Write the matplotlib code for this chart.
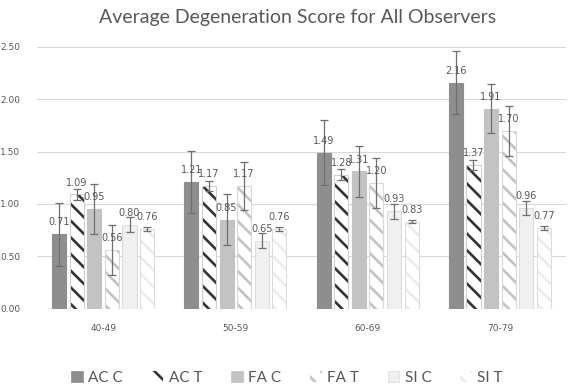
import matplotlib
matplotlib.use("Agg")
import matplotlib.pyplot as plt
import numpy as np
from matplotlib.patches import Patch

categories = ['40-49', '50-59', '60-69', '70-79']
series = ['AC C', 'AC T', 'FA C', 'FA T', 'SI C', 'SI T']
ac_c = [0.71, 1.21, 1.49, 2.16]
ac_t = [1.09, 1.17, 1.28, 1.37]
fa_c = [0.95, 0.85, 1.31, 1.91]
fa_t = [0.56, 1.17, 1.20, 1.70]
si_c = [0.80, 0.65, 0.93, 0.96]
si_t = [0.76, 0.76, 0.83, 0.77]
err_ac_c = [0.30, 0.30, 0.31, 0.30]
err_ac_t = [0.05, 0.05, 0.05, 0.05]
err_fa_c = [0.24, 0.24, 0.24, 0.235]
err_fa_t = [0.235, 0.23, 0.235, 0.24]
err_si_c = [0.07, 0.07, 0.07, 0.065]
err_si_t = [0.015, 0.015, 0.015, 0.015]
yticks = [0.0, 0.5, 1.0, 1.5, 2.0, 2.5]
title = 'Average Degeneration Score for All Observers'

values = [ac_c, ac_t, fa_c, fa_t, si_c, si_t]
errors = [err_ac_c, err_ac_t, err_fa_c, err_fa_t, err_si_c, err_si_t]
# (face, hatch, hatchcolor, border)
styles = [
    ('#8e8e90', None, None, '#8e8e90'),
    ('white', '\\\\', '#333333', '#d0d0d0'),
    ('#c3c3c3', None, None, '#c3c3c3'),
    ('white', '\\\\', '#c3c3c3', '#d8d8d8'),
    ('#f0f0f0', None, None, '#dcdcdc'),
    ('white', '\\\\', '#ececec', '#dcdcdc'),
]

plt.rcParams['hatch.linewidth'] = 1.9
txtc = '#595959'

fig = plt.figure(figsize=(5.77, 3.89), dpi=100)
ax = fig.add_axes([37/577, 1-308.5/389, (566-37)/577, (308.5-47)/389])

x = np.arange(len(categories))
slot = 0.133
bw = 0.106
for i, (vals, errs, st) in enumerate(zip(values, errors, styles)):
    pos = x + (i - 2.5) * slot
    face, hatch, hc, border = st
    if hatch:
        ax.bar(pos, vals, bw, color='white', edgecolor=hc, hatch=hatch, linewidth=0, zorder=2)
        ax.bar(pos, vals, bw, fill=False, edgecolor=border, linewidth=0.8, zorder=2.1)
    else:
        ax.bar(pos, vals, bw, color=face, edgecolor=border, linewidth=0.8, zorder=2)
    ax.errorbar(pos, vals, yerr=errs, fmt='none', ecolor='#6f6f6f', elinewidth=0.9,
                capsize=2.6, capthick=0.9, zorder=3)
    for px, v in zip(pos, vals):
        ax.annotate(f'{v:.2f}', (px, v), xytext=(0, 8.5), textcoords='offset points',
                    ha='center', va='center', fontsize=7, color=txtc, zorder=4)

ax.set_xlim(-0.5, 3.5)
ax.set_ylim(0, 2.5)
ax.set_yticks(yticks)
ax.set_yticklabels([f'{t:.2f}' for t in yticks])
ax.set_xticks(x)
ax.set_xticklabels(categories)
ax.tick_params(axis='both', length=0, labelsize=6.5, colors=txtc)
ax.tick_params(axis='y', pad=12)
ax.tick_params(axis='x', pad=11)
ax.grid(axis='y', color='#d9d9d9', linewidth=0.8, zorder=0)
ax.set_axisbelow(True)
for s in ax.spines.values():
    s.set_visible(False)

fig.text(298/577, 1-17/389, title, ha='center', va='center', fontsize=14,
         color=txtc, family='Lato')

handles = []
for name, st in zip(series, styles):
    face, hatch, hc, border = st
    if hatch:
        handles.append(Patch(facecolor='white', edgecolor=hc, hatch=hatch, linewidth=0, label=name))
    else:
        handles.append(Patch(facecolor=face, edgecolor=border, linewidth=0.5, label=name))
fig.legend(handles=handles, loc='center', bbox_to_anchor=(287/577, 1-378/389), ncol=6,
           frameon=False, handlelength=0.75, handleheight=0.75,
           handletextpad=0.35, columnspacing=1.9, labelcolor=txtc,
           prop={'family': 'Lato', 'size': 11})

fig.savefig('out.png', dpi=100)
